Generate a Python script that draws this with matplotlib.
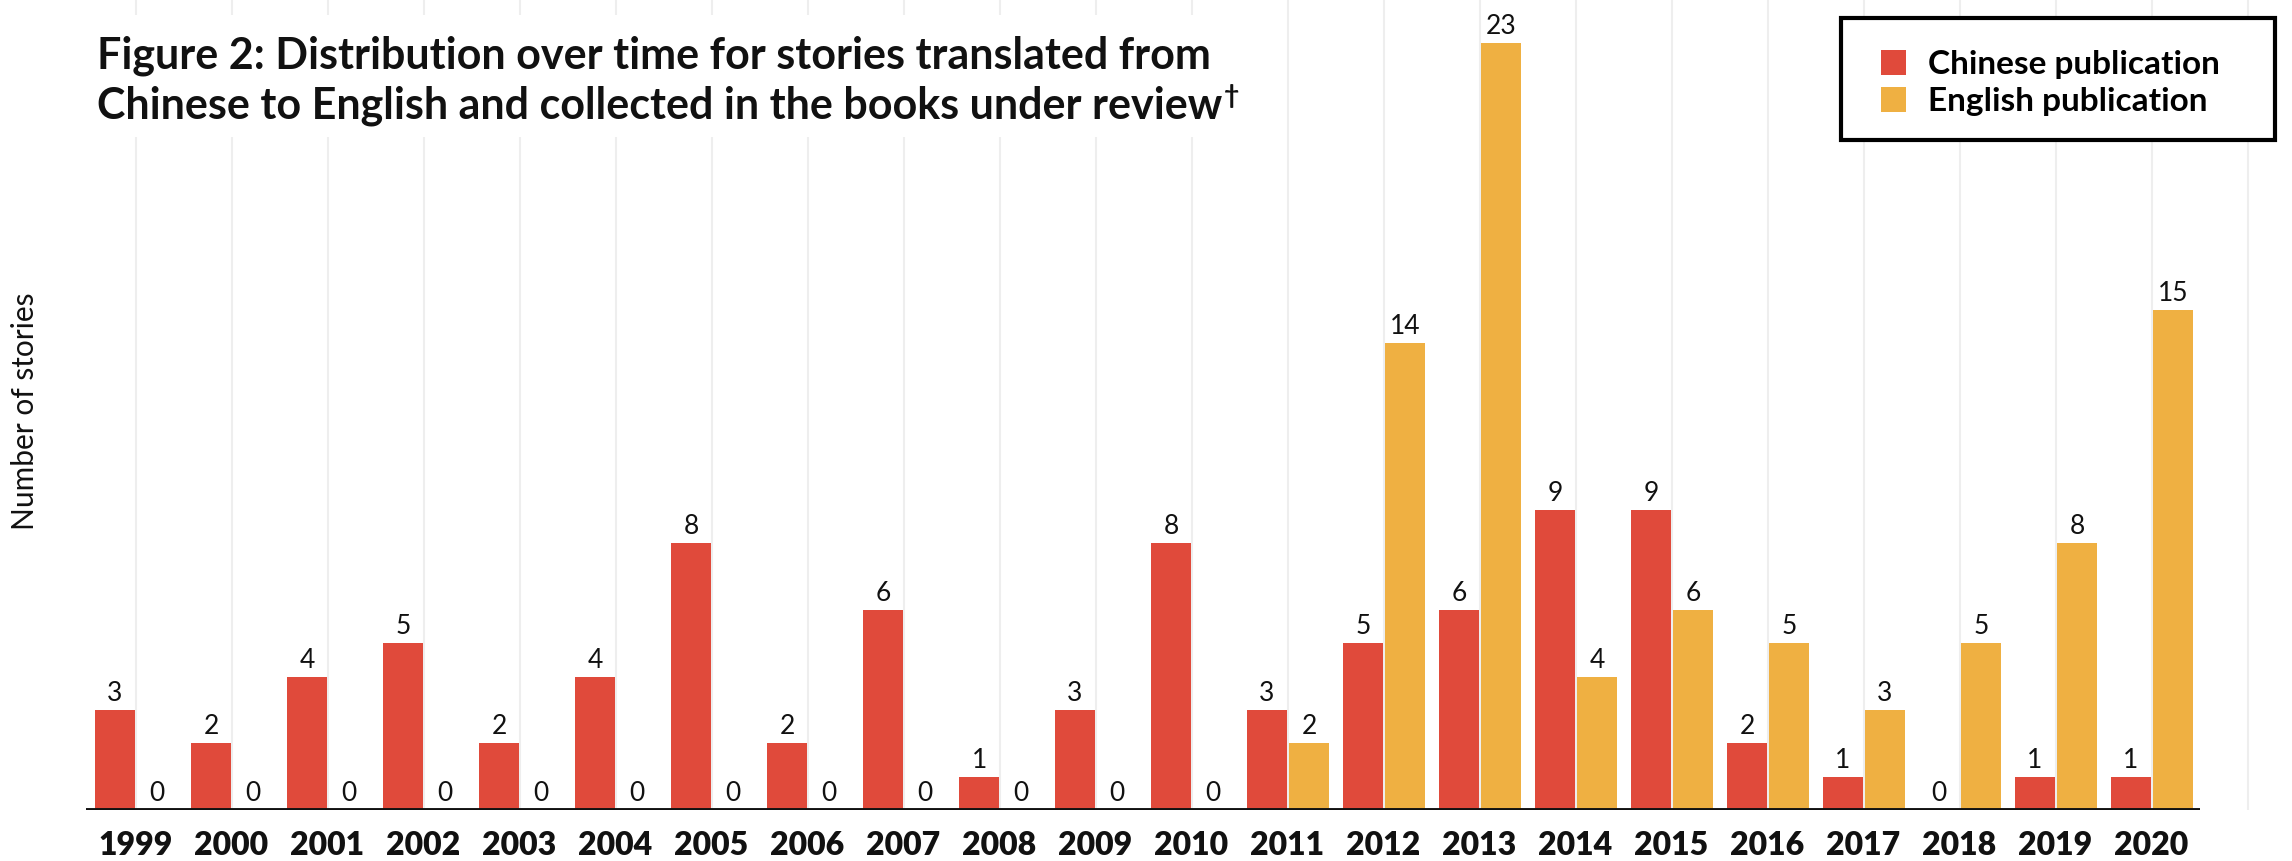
import matplotlib
matplotlib.use("Agg")
import matplotlib.pyplot as plt
from matplotlib.patches import Rectangle
import numpy as np

years = [str(y) for y in range(1999, 2021)]
chinese_pub = [3, 2, 4, 5, 2, 4, 8, 2, 6, 1, 3, 8, 3, 5, 6, 9, 9, 2, 1, 0, 1, 1]
english_pub = [0, 0, 0, 0, 0, 0, 0, 0, 0, 0, 0, 0, 2, 14, 23, 4, 6, 5, 3, 5, 8, 15]
series_names = ["Chinese publication", "English publication"]

RED = "#e04a3b"
YELLOW = "#efb042"
W, H = 2292, 861

plt.rcParams["font.family"] = ["Lato", "DejaVu Sans"]

fig = plt.figure(figsize=(W / 100, H / 100), dpi=100)
ax = fig.add_axes([86 / W, 51 / H, (W - 86) / W, 810 / H])

x = np.arange(len(years))
bw = 40 / 96
b1 = ax.bar(x - 20.5 / 96, chinese_pub, width=bw, color=RED, zorder=2, label=series_names[0])
b2 = ax.bar(x + 21.5 / 96, english_pub, width=bw, color=YELLOW, zorder=2, label=series_names[1])

# value labels above every bar
for bars, vals in ((b1, chinese_pub), (b2, english_pub)):
    for rect, v in zip(bars, vals):
        ax.annotate(str(v), (rect.get_x() + rect.get_width() / 2, v),
                    xytext=(0, 6.5), textcoords="offset points",
                    ha="center", va="baseline", fontsize=19, color="#111111")

# vertical gridlines at each group centre
ax.vlines(np.arange(len(years) + 1), 0, 30, color="#eeeeee", lw=1.5, zorder=0)
ax.hlines(0, -0.516, len(years) - 0.49, color="#111111", lw=2.8, zorder=3)

ax.set_xlim(-0.516, (W - 135.5) / 96)
ax.set_ylim(0, 810 / 33.35)
for s in ax.spines.values():
    s.set_visible(False)
ax.set_yticks([])
ax.set_xticks(x)
ax.set_xticklabels(years, fontsize=23, fontweight="heavy", color="#111111")
ax.tick_params(axis="x", length=0, pad=15)

fig.text(25 / W, 1 - 411 / H, "Number of stories", rotation=90,
         ha="center", va="center", fontsize=21.5, color="#111111")

# title with white backing box
fig.patches.append(Rectangle((60 / W, 1 - 137 / H), 1225 / W, 122 / H,
                             transform=fig.transFigure, facecolor="white",
                             edgecolor="none", zorder=1))
fig.text(97 / W, 1 - 68 / H, "Figure 2: Distribution over time for stories translated from",
         fontsize=31, fontweight="bold", color="#111111", va="baseline", zorder=3)
line2 = fig.text(97 / W, 1 - 118 / H, "Chinese to English and collected in the books under review",
                 fontsize=31, fontweight="bold", color="#111111", va="baseline", zorder=3)
renderer = fig.canvas.get_renderer()
ext = line2.get_window_extent(renderer)
fig.text((ext.x1 + 2) / W, 1 - 104 / H, "\u2020", fontsize=19, fontweight="bold",
         color="#111111", va="baseline", zorder=3)

# legend box
fig.patches.append(Rectangle((1841 / W, 1 - 140 / H), 434 / W, 122 / H,
                             transform=fig.transFigure, facecolor="white",
                             edgecolor="black", lw=3, zorder=1))
fig.legend(handles=[b1, b2], labels=series_names, loc="upper left",
           bbox_to_anchor=(1881 / W, 1 - 50 / H), frameon=False,
           prop={"weight": "bold", "size": 24}, borderpad=0, borderaxespad=0,
           handlelength=0.75, handleheight=0.75, handletextpad=0.65, labelspacing=0.24)

fig.savefig("out.png", dpi=100)
